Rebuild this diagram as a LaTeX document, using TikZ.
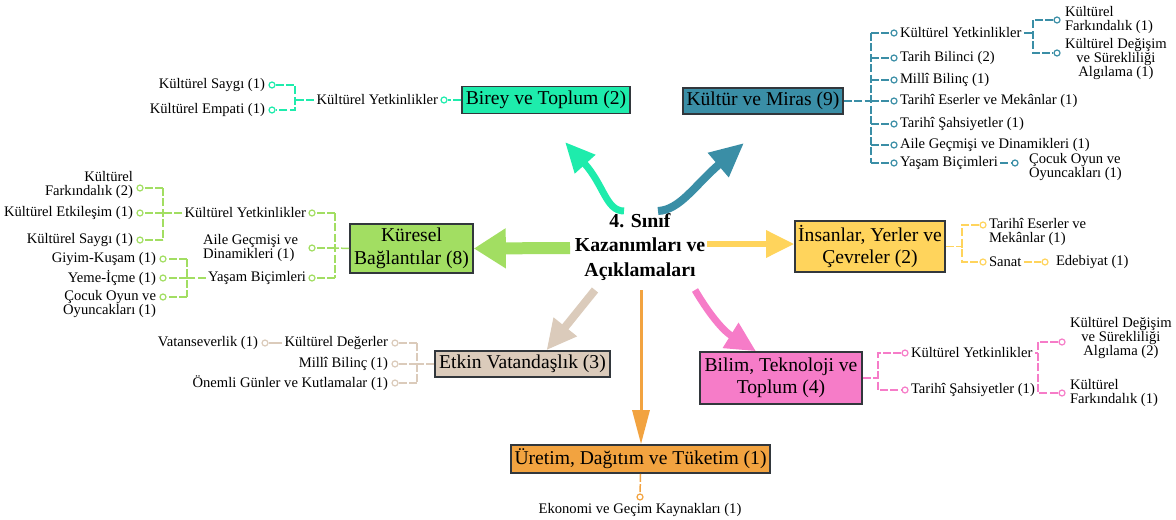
\documentclass[tikz,border=0pt]{standalone}
\usepackage{fontspec}
\setmainfont{Liberation Serif}
\usetikzlibrary{arrows.meta,positioning}
\definecolor{turq}{RGB}{30,236,172}
\definecolor{teal}{RGB}{58,142,166}
\definecolor{lgreen}{RGB}{162,222,98}
\definecolor{yel}{RGB}{255,212,92}
\definecolor{tan}{RGB}{219,203,187}
\definecolor{pink}{RGB}{246,124,200}
\definecolor{orng}{RGB}{242,163,64}
\definecolor{boxline}{RGB}{50,55,60}
\begin{document}
\begin{tikzpicture}[x=0.5pt,y=-0.5pt,
    box/.style={draw=boxline,line width=0.8pt,inner sep=1pt,align=center,
      font=\fontsize{9.8}{11.2}\selectfont},
    lbl/.style={inner sep=1pt,font=\fontsize{7.3}{7.2}\selectfont},
    dot/.style={circle,draw,fill=white,inner sep=0pt,minimum size=3pt,line width=0.6pt},
    br/.style={line width=0.75pt,dash pattern=on 4pt off 1.2pt},
    fat/.style={line width=#1}]
\useasboundingbox (0,0) rectangle (1176,519);

\node[font=\fontsize{9.9}{12.3}\selectfont\bfseries,align=center] (title) at (640,247) {4. Sınıf\\Kazanımları ve\\Açıklamaları};

% boxes
\node[box,fill=turq,minimum width=84pt,minimum height=13.5pt] (birey) at (546,100) {Birey ve Toplum (2)};
\node[box,fill=teal,minimum width=80pt,minimum height=13pt] (kultur) at (763,101) {Kültür ve Miras (9)};
\node[box,fill=lgreen,minimum width=61.5pt,minimum height=24.5pt] (kuresel) at (411.5,248.5) {Küresel\\Bağlantılar (8)};
\node[box,fill=yel,minimum width=75pt,minimum height=25.5pt] (insan) at (870,246.5) {İnsanlar, Yerler ve\\Çevreler (2)};
\node[box,fill=tan,minimum width=87.5pt,minimum height=13pt] (etkin) at (522.5,364) {Etkin Vatandaşlık (3)};
\node[box,fill=pink,minimum width=81pt,minimum height=26pt] (bilim) at (781,378) {Bilim, Teknoloji ve\\Toplum (4)};
\node[box,fill=orng,minimum width=129.5pt,minimum height=14pt] (uretim) at (640.5,459) {Üretim, Dağıtım ve Tüketim (1)};

% arrows from the title
\coordinate (a1) at (624,211);
\coordinate (a1t) at (565,142);
\coordinate (a2) at (658,211);
\coordinate (a2t) at (744,143);
\coordinate (a3) at (570,248);
\coordinate (a4) at (707,244);
\coordinate (a5) at (595,290);
\coordinate (a6) at (641,290);
\coordinate (a7) at (695,290);
\draw[turq,fat=3.5pt,-{Triangle[length=15pt,width=13pt]}] (a1) .. controls (606,211) and (604,185) .. (a1t);
\draw[teal,fat=4pt,-{Triangle[length=17pt,width=15pt]}] (a2) .. controls (680,210) and (695,185) .. (a2t);
\draw[lgreen,fat=6pt,-{Triangle[length=16pt,width=19pt]}] (a3) -- (kuresel.east);
\draw[yel,fat=3pt,-{Triangle[length=14pt,width=13pt]}] (a4) -- (insan.west |- a4);
\draw[tan,fat=4pt,-{Triangle[length=15pt,width=14pt]}] (a5) -- ([xshift=12pt]etkin.north);
\draw[orng,fat=1.5pt,-{Triangle[length=17pt,width=8.5pt]}] (a6) -- (uretim.north -| a6);
\draw[pink,fat=3.5pt,-{Triangle[length=15pt,width=14pt]}] (a7) .. controls (708,312) and (722,330) .. ([xshift=-12.5pt]bilim.north);

% Birey ve Toplum
\begin{scope}[every node/.append style={draw=turq}]
\node[dot] (b0) at (444,100) {};
\node[dot] (b1) at (272,85) {};
\node[dot] (b2) at (272,110) {};
\end{scope}
\coordinate (bj) at (295,100);
\node[lbl,left=0pt of b0] (bky) {Kültürel Yetkinlikler};
\node[lbl,left=0.5pt of b1] (bsa) {Kültürel Saygı (1)};
\node[lbl,left=0.5pt of b2] (bem) {Kültürel Empati (1)};
\draw[br,turq] (birey.west) -- (b0);
\draw[br,turq] (bky.west) -- (bj);
\draw[br,turq] (b1) -| (bj) |- (b2);

% Kultur ve Miras
\coordinate (kj) at (871,101);
\foreach \n/\y in {k1/33,k2/58,k3/80,k4/101,k5/124,k6/145,k7/163}
  \node[dot,draw=teal] (\n) at (894,\y) {};
\node[lbl,right=0pt of k1] (kyet) {Kültürel Yetkinlikler};
\node[lbl,right=0pt of k2] (ktb) {Tarih Bilinci (2)};
\node[lbl,right=0pt of k3] (kmb) {Millî Bilinç (1)};
\node[lbl,right=0pt of k4] (kte) {Tarihî Eserler ve Mekânlar (1)};
\node[lbl,right=0pt of k5] (kts) {Tarihî Şahsiyetler (1)};
\node[lbl,right=0pt of k6] (kag) {Aile Geçmişi ve Dinamikleri (1)};
\node[lbl,right=0pt of k7] (kyas) {Yaşam Biçimleri};
\draw[br,teal] (kultur.east) -- (kj);
\draw[br,teal] (kj |- k1) -- (kj |- k7);
\foreach \n in {k1,k2,k3,k4,k5,k6,k7}
  \draw[br,teal] (kj |- \n) -- (\n);
\coordinate (kj2) at (1033,33);
\node[dot,draw=teal] (kf1) at (1057,20) {};
\node[dot,draw=teal] (kf2) at (1057,53) {};
\node[dot,draw=teal] (kc1) at (1015,163) {};
\node[lbl,right=1pt of kf1,align=left] (kfa) {Kültürel\\Farkındalık (1)};
\node[lbl,right=1pt of kf2,yshift=-3pt,align=center] (kdg) {Kültürel Değişim\\ve Sürekliliği\\Algılama (1)};
\node[lbl,right=4pt of kc1,yshift=-2pt,align=left] (kco) {Çocuk Oyun ve\\Oyuncakları (1)};
\draw[br,teal] (kyet.east) -- (kj2);
\draw[br,teal] (kf1) -| (kj2) |- (kf2);
\draw[br,teal] (kyas.east) -- (kc1);

% Kuresel Baglantilar
\coordinate (gj) at (335,248);
\foreach \n/\y in {g1/213,g2/248,g3/278}
  \node[dot,draw=lgreen] (\n) at (312,\y) {};
\node[lbl,left=0pt of g1] (gky) {Kültürel Yetkinlikler};
\node[lbl,left=4pt of g2,align=left] (gag) {Aile Geçmişi ve\\Dinamikleri (1)};
\node[lbl,left=0pt of g3] (gyas) {Yaşam Biçimleri};
\draw[br,lgreen] (kuresel.west) -- (gj);
\draw[br,lgreen] (gj |- g1) -- (gj |- g3);
\foreach \n in {g1,g2,g3}
  \draw[br,lgreen] (gj |- \n) -- (\n);
\coordinate (gj2) at (163,213);
\foreach \n/\y in {ga1/188,ga2/213,ga3/240}
  \node[dot,draw=lgreen] (\n) at (140,\y) {};
\node[lbl,left=0.5pt of ga1,yshift=1.5pt,align=right] (gfa) {Kültürel\\Farkındalık (2)};
\node[lbl,left=0.5pt of ga2] (get) {Kültürel Etkileşim (1)};
\node[lbl,left=0.5pt of ga3] (gsa) {Kültürel Saygı (1)};
\draw[br,lgreen] (gky.west) -- (gj2);
\draw[br,lgreen] (gj2 |- ga1) -- (gj2 |- ga3);
\foreach \n in {ga1,ga2,ga3}
  \draw[br,lgreen] (gj2 |- \n) -- (\n);
\coordinate (gj3) at (187,278);
\foreach \n/\y in {gb1/259,gb2/278,gb3/297}
  \node[dot,draw=lgreen] (\n) at (163,\y) {};
\node[lbl,left=0.5pt of gb1] (ggk) {Giyim-Kuşam (1)};
\node[lbl,left=0.5pt of gb2] (gyi) {Yeme-İçme (1)};
\node[lbl,left=0.5pt of gb3,yshift=-3.6pt,align=right] (gco) {Çocuk Oyun ve\\Oyuncakları (1)};
\draw[br,lgreen] (gyas.west) -- (gj3);
\draw[br,lgreen] (gj3 |- gb1) -- (gj3 |- gb3);
\foreach \n in {gb1,gb2,gb3}
  \draw[br,lgreen] (gj3 |- \n) -- (\n);

% Insanlar, Yerler ve Cevreler
\coordinate (ij) at (962,246.5);
\node[dot,draw=yel] (i1) at (983,225) {};
\node[dot,draw=yel] (i2) at (983,262) {};
\node[dot,draw=yel] (i3) at (1045,262) {};
\node[lbl,right=0pt of i1,yshift=-3.6pt,align=left] (ite) {Tarihî Eserler ve\\Mekânlar (1)};
\node[lbl,right=0pt of i2] (isa) {Sanat};
\node[lbl,right=2.5pt of i3] (ied) {Edebiyat (1)};
\draw[br,yel] (insan.east) -- (ij);
\draw[br,yel] (i1) -| (ij) |- (i2);
\draw[br,yel] (isa.east) -- (i3);

% Etkin Vatandaslik
\coordinate (ej) at (417,364);
\foreach \n/\y in {e1/343,e2/364,e3/383}
  \node[dot,draw=tan] (\n) at (395,\y) {};
\node[dot,draw=tan] (e4) at (265,343) {};
\node[lbl,left=0.5pt of e1] (edg) {Kültürel Değerler};
\node[lbl,left=0.5pt of e2] (emb) {Millî Bilinç (1)};
\node[lbl,left=0.5pt of e3] (eog) {Önemli Günler ve Kutlamalar (1)};
\node[lbl,left=0.5pt of e4] (eva) {Vatanseverlik (1)};
\draw[br,tan] (etkin.west) -- (ej);
\draw[br,tan] (ej |- e1) -- (ej |- e3);
\foreach \n in {e1,e2,e3}
  \draw[br,tan] (ej |- \n) -- (\n);
\draw[tan,line width=0.75pt] (edg.west) -- (e4);

% Bilim, Teknoloji ve Toplum
\coordinate (tj) at (878,378);
\node[dot,draw=pink] (t1) at (905,353) {};
\node[dot,draw=pink] (t2) at (905,390) {};
\node[lbl,right=0pt of t1] (tky) {Kültürel Yetkinlikler};
\node[lbl,right=0pt of t2] (tts) {Tarihî Şahsiyetler (1)};
\draw[br,pink] (bilim.east) -- (tj);
\draw[br,pink] (t1) -| (tj) |- (t2);
\coordinate (tj2) at (1038,353);
\node[dot,draw=pink] (t3) at (1062,342) {};
\node[dot,draw=pink] (t4) at (1062,393) {};
\node[lbl,right=1pt of t3,yshift=2pt,align=center] (tdg) {Kültürel Değişim\\ve Sürekliliği\\Algılama (2)};
\node[lbl,right=1pt of t4,align=left] (tfa) {Kültürel\\Farkındalık (1)};
\draw[br,pink] (tky.east) -- (tj2);
\draw[br,pink] (t3) -| (tj2) |- (t4);

% Uretim, Dagitim ve Tuketim
\node[dot,draw=orng] (u1) at (640,497) {};
\node[lbl,below=0pt of u1] (uek) {Ekonomi ve Geçim Kaynakları (1)};
\draw[br,orng] (uretim.south) -- (u1);
\end{tikzpicture}
\end{document}
